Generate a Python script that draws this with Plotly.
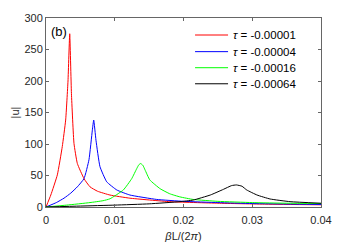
import plotly.graph_objects as go

x_red = [0, 0.0007, 0.00165, 0.00237, 0.00286, 0.0032, 0.00345, 0.0037, 0.00407, 0.00456, 0.00553, 0.0064, 0.0075, 0.0093, 0.0122, 0.018, 0.025, 0.032, 0.04]
y_red = [0, 19, 51, 96, 138, 200, 275, 180, 101, 69, 45, 32, 25, 19, 14, 8.5, 6, 4.5, 3.5]

x_blue = [0, 0.0015, 0.00262, 0.0036, 0.00456, 0.00553, 0.00625, 0.00674, 0.00694, 0.00727, 0.00785, 0.00883, 0.0103, 0.0122, 0.0161, 0.02, 0.025, 0.03, 0.04]
y_blue = [0, 7, 14, 22, 32, 45, 75, 122, 138, 106, 64, 40, 27, 19, 12, 9, 7, 5.5, 4]

x_green = [0, 0.003, 0.0064, 0.0083, 0.0093, 0.01125, 0.01247, 0.0132, 0.0135, 0.01377, 0.0141, 0.0144, 0.0151, 0.0166, 0.018, 0.0195, 0.0214, 0.025, 0.03, 0.035, 0.04]
y_green = [0, 3, 7, 10, 13, 27, 45, 61, 67, 69, 66, 59, 43, 29, 21, 16, 12, 9, 7, 6, 5.5]

x_black = [0, 0.005, 0.01, 0.015, 0.0195, 0.0214, 0.0239, 0.0258, 0.027, 0.0277, 0.0285, 0.0292, 0.0307, 0.0326, 0.0355, 0.04]
y_black = [0, 1.5, 3, 5, 8.5, 11, 19, 28, 34, 35, 33, 27, 19, 12.7, 8.5, 6]

labels = ["<i>τ</i> = -0.00001", "<i>τ</i> = -0.00004", "<i>τ</i> = -0.00016", "<i>τ</i> = -0.00064"]
colors = ["#ff0000", "#0000ff", "#00ff00", "#000000"]
series = [(x_red, y_red), (x_blue, y_blue), (x_green, y_green), (x_black, y_black)]

x_ticks = [0, 0.01, 0.02, 0.03, 0.04]
x_tick_labels = ["0", "0.01", "0.02", "0.03", "0.04"]
y_ticks = [0, 50, 100, 150, 200, 250, 300]

fig = go.Figure()
for (xs, ys), lab, col in zip(series, labels, colors):
    fig.add_trace(go.Scatter(x=xs, y=ys, mode="lines", name=lab, showlegend=False,
                             line=dict(color=col, width=1, shape="spline", smoothing=0.4)))

# manual legend (compact row spacing like the reference)
leg_rows = [0.910, 0.822, 0.737, 0.652]
shapes = []
annotations = []
for yy, lab, col in zip(leg_rows, labels, colors):
    shapes.append(dict(type="line", xref="paper", yref="paper",
                       x0=0.542, x1=0.662, y0=yy, y1=yy,
                       line=dict(color=col, width=1)))
    annotations.append(dict(text=lab, x=0.672, y=yy, xref="paper", yref="paper",
                            xanchor="left", yanchor="middle", showarrow=False,
                            font=dict(size=11.5, color="#000")))
annotations.append(dict(text="(b)", x=0.01, y=0.98, xref="paper", yref="paper",
                        xanchor="left", yanchor="top", showarrow=False,
                        font=dict(size=13, color="#000")))

axis_common = dict(showline=True, linecolor="#666", linewidth=1, mirror="ticks",
                   ticks="inside", ticklen=3, tickcolor="#666", showgrid=False,
                   zeroline=False, automargin=False,
                   tickfont=dict(size=11, color="#262626"))

fig.update_layout(
    width=355, height=242,
    margin=dict(l=46, r=34, t=18, b=35),
    paper_bgcolor="white", plot_bgcolor="white",
    font=dict(family="Liberation Sans, Arial, sans-serif", size=11, color="#262626"),
    xaxis=dict(range=[0, 0.04], tickvals=x_ticks, ticktext=x_tick_labels,
               ticklabelstandoff=3,
               title=dict(text="<i>β</i>L/(2<i>π</i>)", standoff=7, font=dict(size=11)),
               **axis_common),
    yaxis=dict(range=[0, 300], tickvals=y_ticks,
               title=dict(text="|u|", standoff=2, font=dict(size=11)),
               **axis_common),
    showlegend=False,
    shapes=shapes,
    annotations=annotations,
)

fig.write_html("out.html", config={"displayModeBar": False},
               post_script="document.body.style.margin='0';")
